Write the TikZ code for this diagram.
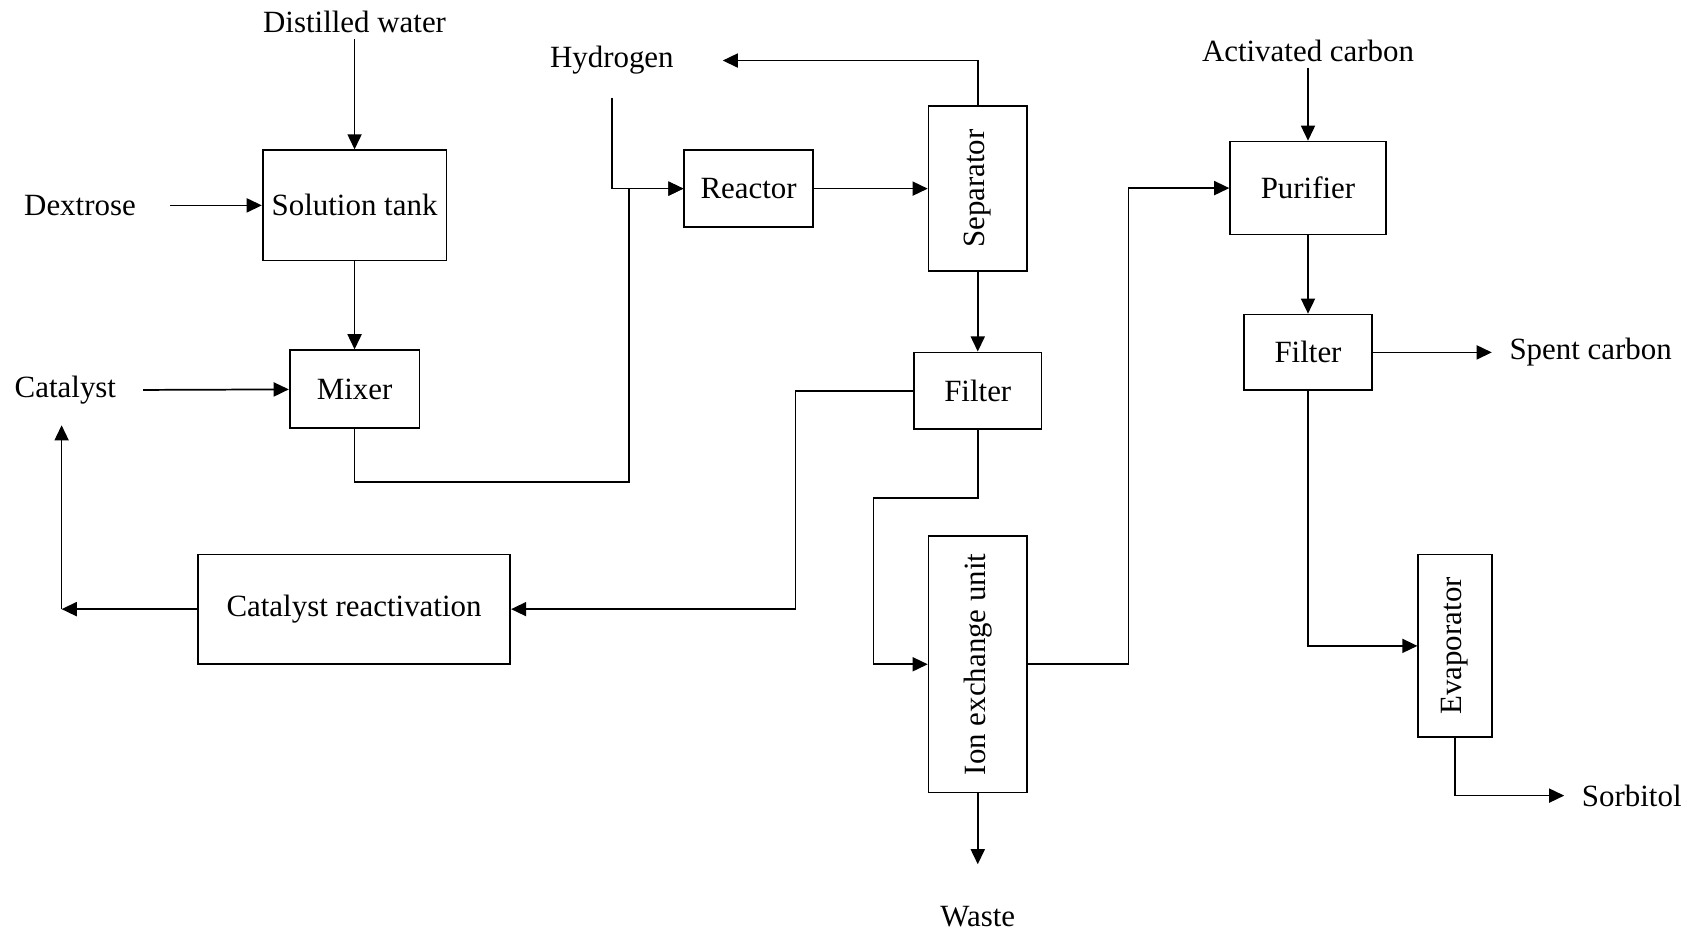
\documentclass[tikz,border=0pt]{standalone}
\usepackage{fontspec}
\setmainfont{Liberation Serif}
\usetikzlibrary{arrows.meta}
\tikzset{
  >={Triangle[length=7pt,width=6.5pt]},
  font=\fontsize{14.3}{17}\selectfont,
  box/.style={draw,line width=0.8pt,inner sep=2pt,align=center},
  vbox/.style={box,rotate=90},
  stream/.style={inner sep=0pt},
  flow/.style={->,line width=0.8pt},
}
\begin{document}
\begin{tikzpicture}[x=0.5pt,y=-0.5pt]
  \useasboundingbox (0,0) rectangle (1568,860);

  % process units
  \node[box,minimum width=85pt,minimum height=51pt] (soltank) at (328,190) {Solution tank};
  \node[box,minimum width=60pt,minimum height=36pt] (mixer) at (328,360) {Mixer};
  \node[box,minimum width=59.5pt,minimum height=35.5pt] (reactor) at (692.5,174.5) {Reactor};
  \node[vbox,minimum width=76.5pt,minimum height=45.5pt] (sep) at (904.5,174.5) {Separator};
  \node[box,minimum width=59pt,minimum height=35.5pt] (filterA) at (904.5,361.5) {Filter};
  \node[box,minimum width=144.5pt,minimum height=50.5pt] (catreact) at (327.5,563.5) {Catalyst reactivation};
  \node[vbox,minimum width=118.5pt,minimum height=45.5pt] (ionex) at (904.5,614.5) {Ion exchange unit};
  \node[box,minimum width=72pt,minimum height=43pt] (purifier) at (1210,174) {Purifier};
  \node[box,minimum width=59pt,minimum height=35pt] (filterB) at (1210,326) {Filter};
  \node[vbox,minimum width=84.5pt,minimum height=34pt] (evap) at (1346,597.5) {Evaporator};

  % feed and product streams
  \node[stream] (water) at (328,20) {Distilled water};
  \node[stream] (dextrose) at (74,190) {Dextrose};
  \node[stream] (catalyst) at (60.5,361) {Catalyst};
  \node[stream] (hydrogen) at (566,56) {Hydrogen};
  \node[stream] (actcarbon) at (1210,47) {Activated carbon};
  \node[stream,anchor=west] (spent) at (1396,326) {Spent carbon};
  \node[stream,anchor=west] (sorbitol) at (1463,736) {Sorbitol};
  \node[stream] (waste) at (904.5,847.5) {Waste};

  % pipe bends
  \coordinate (mixturn) at (582,446);
  \coordinate (recturn) at (736,361.5);
  \coordinate (catturn) at (57,563.5);
  \coordinate (ionturn) at (808,461);
  \coordinate (purturn) at (1044,614.5);

  \draw[flow,shorten <=3pt] (water) -- (soltank);
  \draw[flow,shorten <=15.7pt] (dextrose) -- (soltank);
  \draw[flow] (soltank) -- (mixer);
  \draw[flow,shorten <=12.3pt] (catalyst) -- (mixer);
  \draw[flow] (mixer) |- (mixturn) |- (reactor);
  \draw[flow,shorten <=10.5pt] (hydrogen) |- (reactor);
  \draw[flow] (reactor) -- (sep);
  \draw[flow,shorten >=22.5pt] (sep) |- (hydrogen);
  \draw[flow] (sep) -- (filterA);

  % catalyst recycle
  \draw[flow] (filterA) -- (recturn) |- (catreact);
  \draw[flow] (catreact) -- (catturn);
  \draw[flow,shorten >=9.5pt] (catturn) -- (catturn |- catalyst.south);

  \draw[flow] (filterA) |- (ionturn) |- (ionex);
  \draw[flow,shorten >=19pt] (ionex) -- (waste);
  \draw[flow] (ionex) -- (purturn) |- (purifier);
  \draw[flow,shorten <=2.5pt] (actcarbon) -- (purifier);
  \draw[flow] (purifier) -- (filterB);
  \draw[flow,shorten >=8pt] (filterB) -- (spent);
  \draw[flow] (filterB) |- (evap);
  \draw[flow,shorten >=8pt] (evap) |- (sorbitol);
\end{tikzpicture}
\end{document}
